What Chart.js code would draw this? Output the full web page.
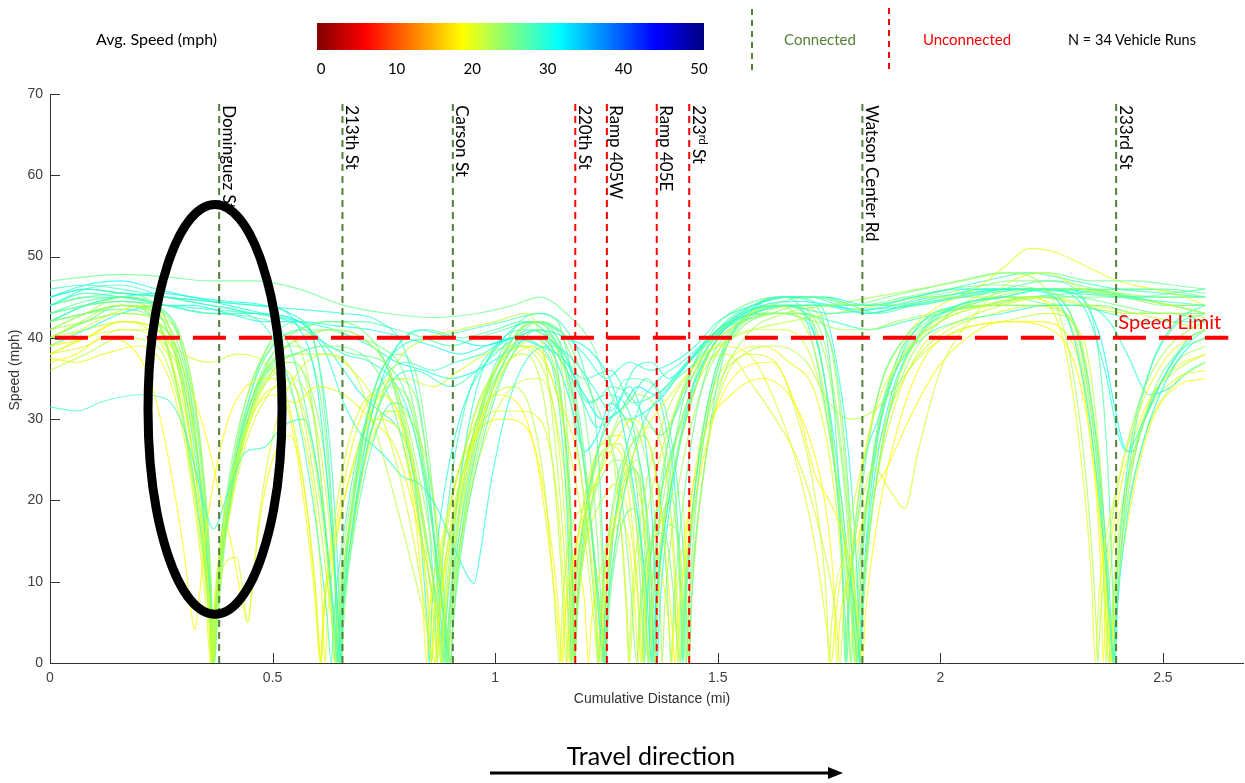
<!DOCTYPE html>
<html><head><meta charset="utf-8">
<script src="https://cdn.jsdelivr.net/npm/chart.js@4/dist/chart.umd.min.js"></script>
<style>
html,body{margin:0;padding:0;background:#fff;}
#wrap{position:relative;width:1245px;height:783px;overflow:hidden;background:#fff;}
#c{position:absolute;left:0;top:0;}
#ov{position:absolute;left:0;top:0;pointer-events:none;}
</style></head><body>
<div id="wrap"><canvas id="c" width="1245" height="783"></canvas><svg id="ov" width="1245" height="783" xmlns="http://www.w3.org/2000/svg"></svg></div>
<script>
// ---------------- DATA ----------------
const streetNames = ['Dominguez St','213th St','Carson St','220th St','Ramp 405W','Ramp 405E','223rd St','Watson Center Rd','233rd St'];
const streetDist = [0.380,0.657,0.905,1.180,1.251,1.363,1.436,1.825,2.395];
const streetConnected = [true,true,true,false,false,false,false,true,true];
const streetSuperscript = [false,false,false,false,false,false,true,false,false];
const speedLimit = 40;
const colorbarTicks = [0,10,20,30,40,50];
const vehicleRuns = 34;
// average speed (mph) of each run -> line colour
const runAvgSpeed = [28,20,22,25,27,30,19,21,23,26,29,24,27,22,26,28,20,23,29,25,21,24,30,27,22,28,19,26,29,23,30,21,25,28];
// [cumulative distance (mi), speed (mph)]
const run01=[[0,31.5],[0.06,31],[0.12,32.2],[0.2,33],[0.26,32.5],[0.3,29],[0.335,22],[0.367,16.5],[0.4,21],[0.44,26],[0.48,26.5],[0.52,29],[0.57,30],[0.6,24],[0.63,10],[0.641,3],[0.645,0],[0.65,4],[0.67,13],[0.71,26],[0.76,34],[0.82,36],[0.9,34],[0.96,36],[1.02,39],[1.08,41],[1.14,39],[1.2,35],[1.26,36],[1.31,32],[1.36,33],[1.42,36],[1.48,40],[1.55,43],[1.65,44],[1.75,43],[1.85,43.5],[1.95,44],[2.05,45],[2.2,46],[2.3,45.5],[2.4,45],[2.5,44.5],[2.595,44]];
const run02=[[0,38],[0.08,40],[0.16,42],[0.24,40],[0.29,34],[0.33,22],[0.355,9],[0.362,0],[0.37,8],[0.4,20],[0.45,30],[0.5,33],[0.55,32],[0.6,34],[0.66,33],[0.72,30],[0.78,26],[0.83,16],[0.87,5],[0.878,0],[0.886,6],[0.92,18],[0.97,30],[1.03,37],[1.09,39],[1.14,33],[1.19,24],[1.225,8],[1.236,0],[1.245,7],[1.28,20],[1.33,28],[1.38,32],[1.44,36],[1.5,39],[1.57,38],[1.63,32],[1.68,24],[1.72,14],[1.748,3],[1.755,0],[1.765,6],[1.8,18],[1.86,32],[1.92,38],[2.0,42],[2.1,44],[2.2,45],[2.27,41],[2.31,28],[2.34,10],[2.348,0],[2.356,8],[2.39,20],[2.44,30],[2.5,37],[2.56,40],[2.595,41]];
const run03=[[0,40],[0.07,42],[0.15,44],[0.22,43.5],[0.27,38],[0.31,26],[0.345,12],[0.362,3],[0.366,0],[0.371,5],[0.39,14],[0.43,26],[0.48,34],[0.53,36],[0.57,30],[0.6,20],[0.625,9],[0.64,2],[0.645,0],[0.65,4],[0.68,16],[0.72,28],[0.78,37],[0.85,40],[0.92,41],[1.0,42],[1.07,43],[1.11,38],[1.14,24],[1.162,8],[1.17,0],[1.177,7],[1.2,17],[1.24,26],[1.28,27],[1.31,20],[1.335,8],[1.345,0],[1.352,6],[1.38,18],[1.43,30],[1.48,38],[1.55,42],[1.62,44],[1.7,41],[1.75,30],[1.785,14],[1.805,3],[1.81,0],[1.817,5],[1.84,16],[1.88,30],[1.94,39],[2.02,43],[2.12,44],[2.22,45],[2.32,44],[2.42,43],[2.52,43],[2.595,42.5]];
const run04=[[0,42],[0.08,43],[0.16,44],[0.24,42],[0.29,33],[0.33,20],[0.357,7],[0.364,0],[0.371,6],[0.4,18],[0.45,31],[0.5,38],[0.56,41],[0.63,42],[0.7,41],[0.76,36],[0.81,25],[0.855,12],[0.885,3],[0.893,0],[0.9,5],[0.93,18],[0.98,31],[1.04,39],[1.1,42],[1.16,40],[1.2,35],[1.24,30],[1.28,22],[1.305,9],[1.318,0],[1.326,7],[1.35,15],[1.38,16],[1.4,9],[1.415,0],[1.423,6],[1.45,20],[1.49,34],[1.54,41],[1.62,44],[1.72,45],[1.82,44],[1.92,45],[2.02,46],[2.12,46.5],[2.22,46],[2.3,42],[2.34,30],[2.37,14],[2.383,3],[2.388,0],[2.394,6],[2.42,20],[2.47,32],[2.53,38],[2.595,40]];
const run05=[[0,43],[0.08,44.5],[0.16,45],[0.26,44],[0.36,43],[0.46,42.5],[0.53,40],[0.58,30],[0.62,16],[0.642,4],[0.65,0],[0.656,5],[0.68,15],[0.72,26],[0.77,32],[0.81,30],[0.85,20],[0.88,8],[0.895,1],[0.9,0],[0.906,5],[0.93,16],[0.98,29],[1.04,38],[1.1,41],[1.15,38],[1.19,28],[1.22,14],[1.238,3],[1.245,0],[1.252,6],[1.28,18],[1.33,29],[1.39,34],[1.45,37],[1.51,41],[1.58,44],[1.65,45],[1.7,42],[1.74,32],[1.78,17],[1.805,5],[1.815,0],[1.822,6],[1.85,20],[1.9,34],[1.96,41],[2.04,44],[2.14,45],[2.24,46],[2.34,45.5],[2.44,45],[2.52,45.5],[2.595,46]];
const run06=[[0,45],[0.08,46.5],[0.16,47],[0.24,46],[0.32,45],[0.4,44.5],[0.48,44],[0.55,42],[0.6,34],[0.63,18],[0.648,5],[0.652,0],[0.658,6],[0.68,17],[0.72,30],[0.77,38],[0.83,41],[0.9,40],[0.97,39],[1.04,40],[1.1,41],[1.16,40],[1.22,38],[1.27,33],[1.31,22],[1.34,9],[1.352,0],[1.36,7],[1.39,20],[1.44,33],[1.5,40],[1.56,43],[1.64,45],[1.74,45],[1.84,44],[1.94,45],[2.04,46],[2.14,46],[2.24,45.5],[2.3,40],[2.34,28],[2.37,13],[2.386,2],[2.39,0],[2.396,6],[2.42,18],[2.46,28],[2.51,35],[2.56,39],[2.595,40]];
const run07=[[0,37],[0.06,38],[0.12,40],[0.18,39],[0.23,34],[0.27,24],[0.3,14],[0.318,6],[0.325,4],[0.333,7],[0.35,16],[0.39,28],[0.44,34],[0.5,35],[0.54,30],[0.57,20],[0.595,8],[0.607,0],[0.615,7],[0.64,16],[0.68,27],[0.73,33],[0.78,31],[0.82,20],[0.852,7],[0.866,0],[0.874,6],[0.9,15],[0.95,27],[1.0,33],[1.05,32],[1.09,26],[1.12,15],[1.14,5],[1.148,0],[1.156,6],[1.18,14],[1.21,20],[1.26,26],[1.31,30],[1.35,26],[1.38,15],[1.398,4],[1.404,0],[1.41,5],[1.44,17],[1.49,30],[1.55,36],[1.62,37],[1.68,31],[1.72,23],[1.75,20],[1.78,16],[1.81,8],[1.825,0],[1.832,6],[1.86,18],[1.91,30],[1.97,38],[2.05,41],[2.15,42],[2.25,41],[2.32,33],[2.36,17],[2.378,4],[2.384,0],[2.39,5],[2.42,17],[2.47,29],[2.53,34],[2.595,35]];
const run08=[[0,39],[0.07,41],[0.14,43],[0.21,44],[0.27,41],[0.31,30],[0.345,15],[0.363,4],[0.368,0],[0.373,4],[0.39,12],[0.42,13],[0.435,8],[0.444,5],[0.452,8],[0.47,18],[0.51,30],[0.56,36],[0.62,38],[0.68,36],[0.74,31],[0.79,22],[0.83,11],[0.851,3],[0.857,0],[0.863,5],[0.89,16],[0.94,28],[1.0,36],[1.06,39],[1.12,36],[1.16,28],[1.2,16],[1.222,5],[1.23,0],[1.237,6],[1.26,16],[1.28,17],[1.295,8],[1.303,0],[1.31,7],[1.34,18],[1.39,29],[1.45,36],[1.52,38],[1.58,34],[1.63,30],[1.68,25],[1.73,16],[1.765,6],[1.775,0],[1.782,6],[1.81,16],[1.85,24],[1.89,21],[1.92,19],[1.95,26],[2.0,36],[2.08,43],[2.16,47],[2.24,48],[2.32,46],[2.42,45],[2.52,44],[2.595,43]];
const run09=[[0,41],[0.08,43],[0.16,45],[0.23,44],[0.28,38],[0.32,26],[0.35,12],[0.362,3],[0.365,0],[0.37,5],[0.39,16],[0.43,30],[0.48,38],[0.54,40],[0.58,35],[0.61,22],[0.63,9],[0.638,2],[0.641,0],[0.646,5],[0.67,16],[0.71,28],[0.76,35],[0.8,30],[0.84,20],[0.875,9],[0.895,2],[0.9,0],[0.905,5],[0.93,17],[0.98,30],[1.04,38],[1.1,40],[1.14,36],[1.16,24],[1.172,8],[1.176,0],[1.182,6],[1.21,18],[1.26,28],[1.32,33],[1.37,30],[1.4,20],[1.42,8],[1.428,0],[1.434,6],[1.46,20],[1.5,33],[1.56,40],[1.65,43],[1.75,44],[1.85,45],[1.95,46],[2.05,47],[2.15,48],[2.25,45],[2.3,35],[2.335,18],[2.35,5],[2.354,0],[2.36,6],[2.39,19],[2.44,31],[2.5,38],[2.56,41],[2.595,42]];
const run10=[[0,40],[0.08,42],[0.16,44],[0.24,43],[0.29,36],[0.33,22],[0.358,9],[0.367,2],[0.37,0],[0.375,4],[0.4,18],[0.44,30],[0.49,36],[0.55,38],[0.62,39],[0.7,38],[0.76,33],[0.81,23],[0.85,11],[0.88,3],[0.889,0],[0.895,5],[0.92,16],[0.97,30],[1.03,38],[1.09,41],[1.14,39],[1.18,32],[1.21,20],[1.238,5],[1.248,0],[1.255,6],[1.28,16],[1.31,19],[1.33,12],[1.336,0],[1.342,8],[1.37,20],[1.42,30],[1.47,38],[1.54,42],[1.62,44],[1.7,43],[1.74,35],[1.77,20],[1.793,6],[1.8,0],[1.806,6],[1.83,18],[1.87,31],[1.92,38],[2.0,42],[2.1,44],[2.2,45],[2.3,45],[2.4,44],[2.5,43],[2.595,43]];
const run11=[[0,44],[0.08,45.5],[0.16,45],[0.26,44],[0.36,43],[0.46,43],[0.56,42],[0.62,38],[0.66,32],[0.7,28],[0.73,26.6],[0.76,25],[0.79,23],[0.83,22],[0.87,19],[0.91,14],[0.94,10.5],[0.953,9.8],[0.965,13],[0.99,22],[1.03,32],[1.08,38],[1.13,39],[1.18,37],[1.22,34],[1.26,31],[1.3,34],[1.33,30],[1.35,20],[1.36,8],[1.364,0],[1.37,7],[1.4,22],[1.45,34],[1.5,40],[1.58,43],[1.66,44],[1.72,40],[1.76,28],[1.795,12],[1.815,3],[1.82,0],[1.826,8],[1.85,22],[1.89,33],[1.95,40],[2.04,44],[2.14,45],[2.24,46],[2.32,44],[2.37,36],[2.4,28],[2.42,26],[2.45,29],[2.5,35],[2.55,39],[2.595,41]];
const run12=[[0,41],[0.08,43],[0.16,44],[0.24,42],[0.28,35],[0.32,23],[0.35,11],[0.362,3],[0.366,0],[0.37,4],[0.39,14],[0.43,27],[0.48,35],[0.54,37],[0.59,33],[0.62,24],[0.64,11],[0.652,2],[0.655,0],[0.66,5],[0.68,16],[0.72,28],[0.77,35],[0.82,33],[0.85,24],[0.88,11],[0.896,2],[0.9,0],[0.905,5],[0.93,18],[0.98,31],[1.04,39],[1.1,41],[1.15,37],[1.19,28],[1.22,15],[1.24,4],[1.245,0],[1.25,5],[1.28,18],[1.31,24],[1.33,20],[1.345,9],[1.355,0],[1.362,7],[1.39,20],[1.44,32],[1.5,40],[1.58,43],[1.66,44],[1.73,41],[1.77,30],[1.8,14],[1.815,3],[1.82,0],[1.826,6],[1.86,24],[1.92,36],[2.0,42],[2.1,45],[2.2,46],[2.3,46],[2.4,45.5],[2.5,45],[2.595,45]];
const run13=[[0,42],[0.08,44],[0.16,45],[0.24,44],[0.29,37],[0.33,24],[0.358,10],[0.367,2],[0.369,0],[0.374,5],[0.4,19],[0.45,33],[0.5,40],[0.56,42],[0.6,38],[0.625,26],[0.642,10],[0.648,0],[0.654,7],[0.68,19],[0.72,32],[0.78,39],[0.85,41],[0.92,40],[1.0,41],[1.06,42],[1.12,40],[1.15,32],[1.17,17],[1.176,5],[1.178,0],[1.184,7],[1.21,20],[1.25,30],[1.3,35],[1.36,34],[1.4,26],[1.425,12],[1.435,0],[1.441,8],[1.47,24],[1.51,37],[1.57,43],[1.65,45],[1.72,44],[1.75,38],[1.77,24],[1.782,8],[1.786,0],[1.792,6],[1.82,20],[1.86,33],[1.92,40],[2.0,43],[2.1,44],[2.2,45],[2.3,45.5],[2.4,46],[2.5,46],[2.595,45.5]];
const run14=[[0,36],[0.08,38],[0.16,40],[0.24,39],[0.29,32],[0.33,20],[0.355,7],[0.363,0],[0.369,5],[0.39,15],[0.43,27],[0.49,35],[0.56,38],[0.63,38],[0.69,35],[0.74,27],[0.79,17],[0.84,6],[0.866,0],[0.872,6],[0.9,16],[0.95,28],[1.0,35],[1.06,38],[1.1,35],[1.13,24],[1.15,10],[1.16,0],[1.166,7],[1.19,17],[1.23,25],[1.26,26],[1.28,18],[1.295,6],[1.3,0],[1.306,7],[1.33,19],[1.38,30],[1.44,36],[1.5,39],[1.58,41],[1.66,42],[1.76,43],[1.86,44],[1.96,45],[2.06,45],[2.16,45],[2.26,44],[2.32,36],[2.355,20],[2.372,6],[2.378,0],[2.384,5],[2.41,16],[2.46,28],[2.52,34],[2.595,37]];
const run15=[[0,47],[0.08,47.5],[0.16,47.8],[0.26,47.5],[0.36,47],[0.46,47],[0.56,46],[0.66,44],[0.76,43],[0.86,42.5],[0.96,43],[1.04,44],[1.1,45],[1.16,43],[1.22,39],[1.26,33],[1.3,29],[1.33,23],[1.35,12],[1.357,0],[1.363,8],[1.39,22],[1.43,34],[1.49,41],[1.56,44],[1.64,45],[1.72,45],[1.8,44],[1.88,45],[1.96,46],[2.04,47],[2.14,48],[2.24,48],[2.34,47],[2.44,47],[2.52,46.5],[2.595,46]];
const run16=[[0,44],[0.08,46],[0.16,46.5],[0.26,45],[0.36,44],[0.44,43],[0.5,40],[0.55,32],[0.59,20],[0.622,6],[0.632,0],[0.638,6],[0.66,16],[0.7,28],[0.75,35],[0.8,37],[0.86,36],[0.91,37],[0.97,38],[1.04,40],[1.1,39],[1.14,33],[1.16,20],[1.168,7],[1.171,0],[1.177,7],[1.2,18],[1.23,26],[1.26,30],[1.3,32],[1.34,35],[1.38,30],[1.41,17],[1.42,4],[1.422,0],[1.428,7],[1.45,22],[1.49,35],[1.55,42],[1.63,44],[1.73,44],[1.83,43],[1.93,44],[2.03,45],[2.13,46],[2.23,46],[2.33,46],[2.43,45],[2.52,44],[2.595,43]];
const run17=[[0,37.5],[0.06,37],[0.12,38],[0.2,39],[0.26,36],[0.3,28],[0.33,17],[0.352,6],[0.36,0],[0.366,5],[0.39,15],[0.43,26],[0.48,33],[0.53,34],[0.57,28],[0.6,17],[0.612,7],[0.618,0],[0.624,6],[0.65,17],[0.7,28],[0.75,33],[0.8,28],[0.84,16],[0.862,5],[0.87,0],[0.876,6],[0.9,17],[0.95,27],[1.0,31],[1.05,31],[1.1,30],[1.14,20],[1.158,6],[1.163,0],[1.17,6],[1.2,18],[1.24,27],[1.28,26],[1.31,16],[1.325,5],[1.33,0],[1.336,6],[1.36,16],[1.39,18],[1.405,8],[1.41,0],[1.416,7],[1.44,20],[1.48,32],[1.54,38],[1.6,39],[1.66,37],[1.72,33],[1.76,22],[1.78,10],[1.787,0],[1.793,8],[1.82,22],[1.86,33],[1.92,40],[2.0,44],[2.08,46],[2.15,49],[2.2,51],[2.26,50.5],[2.32,49],[2.4,47],[2.48,46],[2.55,45],[2.595,44]];
const run18=[[0,40],[0.08,42],[0.16,43],[0.24,42],[0.3,36],[0.34,22],[0.36,8],[0.366,0],[0.372,7],[0.4,20],[0.45,32],[0.51,38],[0.57,40],[0.63,41],[0.7,40],[0.77,35],[0.82,24],[0.855,12],[0.878,3],[0.882,0],[0.888,5],[0.91,16],[0.96,30],[1.02,38],[1.08,42],[1.13,40],[1.16,30],[1.174,12],[1.178,0],[1.184,8],[1.21,20],[1.23,22],[1.24,12],[1.245,0],[1.25,8],[1.28,20],[1.32,25],[1.335,15],[1.345,0],[1.351,8],[1.38,21],[1.43,32],[1.49,39],[1.56,42],[1.64,43],[1.72,42],[1.78,41],[1.84,41],[1.9,42],[1.98,43],[2.08,44],[2.18,44],[2.28,43],[2.33,35],[2.36,20],[2.378,5],[2.382,0],[2.388,6],[2.41,18],[2.46,30],[2.53,37],[2.595,39]];
const run19=[[0,45],[0.08,46],[0.16,45.5],[0.26,45],[0.36,44.5],[0.46,44],[0.56,43.5],[0.66,43],[0.74,42],[0.8,38],[0.84,28],[0.865,14],[0.88,4],[0.885,0],[0.891,6],[0.92,22],[0.96,34],[1.02,40],[1.08,42],[1.14,41],[1.2,38],[1.25,35],[1.3,37],[1.35,36],[1.4,37],[1.45,39],[1.5,42],[1.58,44],[1.66,45],[1.73,44],[1.77,36],[1.8,22],[1.815,8],[1.819,0],[1.825,8],[1.85,24],[1.9,36],[1.96,42],[2.04,44],[2.14,45],[2.24,45],[2.3,42],[2.34,32],[2.37,16],[2.385,4],[2.388,0],[2.394,8],[2.42,24],[2.47,36],[2.53,42],[2.595,44]];
const run20=[[0,43],[0.08,44],[0.16,44.5],[0.24,43],[0.3,37],[0.34,24],[0.36,10],[0.367,0],[0.373,7],[0.4,20],[0.45,32],[0.5,38],[0.55,39],[0.6,35],[0.625,24],[0.64,10],[0.646,0],[0.652,7],[0.68,20],[0.72,32],[0.78,38],[0.82,36],[0.85,26],[0.875,12],[0.888,3],[0.892,0],[0.898,6],[0.92,18],[0.97,31],[1.03,39],[1.09,42],[1.14,40],[1.17,32],[1.2,20],[1.225,6],[1.232,0],[1.238,7],[1.26,18],[1.29,25],[1.31,24],[1.33,14],[1.34,4],[1.343,0],[1.349,7],[1.37,17],[1.4,20],[1.415,9],[1.42,0],[1.426,8],[1.45,22],[1.49,35],[1.55,41],[1.62,43],[1.7,44],[1.8,44],[1.9,44],[2.0,45],[2.1,46],[2.2,46],[2.3,45],[2.4,45],[2.5,44],[2.595,44]];
const run21=[[0,38],[0.08,40],[0.16,41],[0.24,41],[0.3,38],[0.36,37],[0.42,38],[0.48,37],[0.53,33],[0.57,22],[0.598,8],[0.608,0],[0.614,6],[0.64,18],[0.68,29],[0.74,34],[0.8,35],[0.86,34],[0.92,36],[0.98,38],[1.04,39],[1.1,37],[1.14,28],[1.16,14],[1.168,0],[1.174,8],[1.2,20],[1.24,27],[1.28,28],[1.32,22],[1.35,10],[1.36,0],[1.366,8],[1.39,20],[1.42,21],[1.43,10],[1.436,0],[1.442,8],[1.47,24],[1.51,34],[1.57,38],[1.63,37],[1.68,30],[1.72,20],[1.745,7],[1.75,0],[1.756,5],[1.78,12],[1.8,10],[1.815,3],[1.818,0],[1.824,7],[1.85,20],[1.9,32],[1.96,39],[2.04,42],[2.14,44],[2.24,45],[2.34,44],[2.44,43],[2.52,42],[2.595,41]];
const run22=[[0,42],[0.08,43],[0.16,44],[0.24,43.5],[0.3,38],[0.34,25],[0.36,10],[0.368,0],[0.374,7],[0.4,20],[0.45,32],[0.5,37],[0.56,40],[0.63,41],[0.7,40],[0.76,36],[0.81,26],[0.85,14],[0.875,4],[0.88,0],[0.886,6],[0.91,18],[0.96,30],[1.02,38],[1.08,40],[1.13,37],[1.16,26],[1.175,10],[1.179,0],[1.185,7],[1.21,18],[1.24,23],[1.27,25],[1.3,24],[1.32,15],[1.33,5],[1.333,0],[1.339,7],[1.36,18],[1.4,30],[1.46,38],[1.53,42],[1.6,43],[1.68,43],[1.74,38],[1.78,24],[1.8,10],[1.807,0],[1.813,7],[1.84,22],[1.88,33],[1.94,40],[2.02,43],[2.12,45],[2.22,46],[2.32,46],[2.42,45],[2.52,44],[2.595,43]];
const run23=[[0,39],[0.08,41],[0.16,43],[0.24,44],[0.32,44],[0.4,43],[0.48,42],[0.56,42],[0.64,41.5],[0.72,41],[0.8,40],[0.86,39],[0.92,38],[0.98,39],[1.04,40],[1.1,39],[1.16,37],[1.2,33],[1.24,30],[1.28,31],[1.32,34],[1.36,33],[1.4,35],[1.45,38],[1.5,41],[1.58,43],[1.66,44],[1.74,44],[1.82,43.5],[1.9,44],[1.98,45],[2.06,45.5],[2.16,46],[2.26,46],[2.36,45.5],[2.46,45],[2.55,45],[2.595,45]];
const run24=[[0,44],[0.08,45],[0.16,45],[0.24,44],[0.3,38],[0.335,24],[0.355,10],[0.364,0],[0.37,7],[0.4,21],[0.45,33],[0.5,39],[0.56,41],[0.62,42],[0.7,42],[0.78,41],[0.84,40],[0.9,39],[0.96,40],[1.02,41],[1.08,42],[1.14,40],[1.18,35],[1.22,32],[1.26,34],[1.3,33],[1.34,30],[1.37,28],[1.4,30],[1.45,36],[1.5,41],[1.58,44],[1.66,45],[1.74,45],[1.8,44],[1.86,43],[1.94,44],[2.04,45],[2.14,46],[2.24,47],[2.32,45],[2.36,36],[2.38,20],[2.39,5],[2.393,0],[2.399,8],[2.42,22],[2.46,34],[2.52,41],[2.595,43]];
const run25=[[0,40],[0.08,41],[0.16,42],[0.24,41],[0.3,35],[0.34,22],[0.362,8],[0.368,0],[0.374,7],[0.4,18],[0.44,29],[0.5,35],[0.55,34],[0.59,26],[0.62,14],[0.638,4],[0.643,0],[0.649,6],[0.67,16],[0.71,27],[0.76,31],[0.8,28],[0.83,18],[0.848,8],[0.856,0],[0.862,6],[0.89,17],[0.93,26],[0.98,32],[1.04,34],[1.08,31],[1.11,22],[1.13,10],[1.145,0],[1.151,7],[1.18,18],[1.21,19],[1.225,10],[1.233,0],[1.239,6],[1.26,17],[1.3,26],[1.34,29],[1.38,25],[1.4,15],[1.412,4],[1.415,0],[1.421,6],[1.45,22],[1.5,34],[1.56,38],[1.63,39],[1.7,37],[1.75,32],[1.8,30],[1.85,31],[1.9,34],[1.96,38],[2.04,41],[2.14,42],[2.24,43],[2.32,40],[2.35,30],[2.372,14],[2.382,0],[2.388,8],[2.42,22],[2.47,32],[2.53,36],[2.595,38]];
const run26=[[0,46],[0.08,46.5],[0.16,46],[0.26,45],[0.36,44.5],[0.46,44],[0.54,43],[0.6,38],[0.63,26],[0.648,10],[0.654,0],[0.66,8],[0.69,24],[0.73,34],[0.79,39],[0.86,40],[0.94,41],[1.02,42],[1.1,43],[1.16,41],[1.2,36],[1.23,27],[1.243,12],[1.248,0],[1.254,8],[1.28,22],[1.32,31],[1.37,35],[1.42,37],[1.48,40],[1.55,43],[1.63,45],[1.71,45],[1.78,44],[1.86,44],[1.94,45],[2.02,46],[2.1,47],[2.2,48],[2.3,47],[2.4,46],[2.5,45.5],[2.595,45]];
const run27=[[0,39],[0.08,40],[0.16,42],[0.24,41],[0.3,36],[0.35,28],[0.38,21],[0.41,14],[0.43,8],[0.445,5],[0.452,8],[0.47,17],[0.5,25],[0.54,28],[0.57,22],[0.595,10],[0.61,0],[0.616,6],[0.64,15],[0.68,24],[0.73,30],[0.78,29],[0.81,22],[0.835,10],[0.846,0],[0.852,6],[0.88,15],[0.92,24],[0.97,29],[1.02,30],[1.07,29],[1.11,21],[1.14,8],[1.152,0],[1.158,6],[1.18,12],[1.2,8],[1.21,0],[1.216,5],[1.24,12],[1.27,18],[1.3,15],[1.316,5],[1.321,0],[1.327,6],[1.35,14],[1.37,12],[1.39,5],[1.397,0],[1.403,6],[1.43,17],[1.47,28],[1.53,33],[1.6,35],[1.66,33],[1.71,27],[1.74,20],[1.76,10],[1.768,0],[1.774,5],[1.8,12],[1.84,20],[1.88,24],[1.93,30],[1.99,36],[2.06,40],[2.14,42],[2.22,42],[2.3,39],[2.34,26],[2.36,12],[2.366,0],[2.372,8],[2.4,20],[2.45,30],[2.52,36],[2.595,38]];
const run28=[[0,42],[0.08,43],[0.16,43.5],[0.24,42],[0.3,36],[0.34,21],[0.362,7],[0.367,0],[0.373,7],[0.4,20],[0.45,32],[0.5,37],[0.55,38],[0.61,39],[0.68,38],[0.75,37],[0.8,33],[0.84,24],[0.87,12],[0.886,3],[0.89,0],[0.896,6],[0.92,19],[0.97,32],[1.03,40],[1.09,43],[1.14,42],[1.17,36],[1.2,26],[1.22,14],[1.235,4],[1.24,0],[1.246,6],[1.27,18],[1.3,26],[1.33,28],[1.36,24],[1.38,15],[1.39,5],[1.395,0],[1.401,7],[1.43,23],[1.47,35],[1.53,41],[1.61,43],[1.69,43],[1.75,40],[1.78,30],[1.8,16],[1.81,5],[1.813,0],[1.819,8],[1.85,26],[1.9,37],[1.97,42],[2.06,44],[2.16,45],[2.26,44],[2.36,44],[2.44,43],[2.52,43],[2.595,42]];
const run29=[[0,43],[0.08,44],[0.16,44.5],[0.26,44],[0.36,43.5],[0.46,43],[0.56,42],[0.62,39],[0.66,36],[0.7,33],[0.74,31],[0.78,29],[0.81,25],[0.835,14],[0.848,4],[0.852,0],[0.858,7],[0.88,19],[0.92,30],[0.98,37],[1.04,40],[1.1,40],[1.15,37],[1.19,33],[1.23,29],[1.27,31],[1.31,36],[1.35,37],[1.39,35],[1.43,37],[1.48,40],[1.55,42],[1.63,43],[1.7,42],[1.74,35],[1.77,20],[1.786,6],[1.79,0],[1.796,8],[1.82,22],[1.86,30],[1.9,36],[1.96,40],[2.04,42],[2.14,43],[2.24,44],[2.32,44],[2.38,42],[2.42,38],[2.47,33],[2.52,34],[2.56,36],[2.595,37]];
const run30=[[0,41],[0.08,42],[0.16,43],[0.24,42.5],[0.3,39],[0.34,26],[0.362,10],[0.369,0],[0.375,7],[0.4,19],[0.45,31],[0.5,36],[0.55,37],[0.59,31],[0.615,19],[0.632,7],[0.638,0],[0.644,6],[0.67,18],[0.71,29],[0.76,34],[0.81,32],[0.845,22],[0.87,10],[0.878,0],[0.884,7],[0.91,19],[0.95,30],[1.0,36],[1.06,39],[1.11,38],[1.15,31],[1.17,16],[1.176,4],[1.179,0],[1.185,6],[1.21,17],[1.25,26],[1.29,30],[1.33,27],[1.36,17],[1.372,5],[1.375,0],[1.381,7],[1.41,21],[1.46,33],[1.52,40],[1.6,43],[1.68,44],[1.75,40],[1.78,28],[1.8,14],[1.808,3],[1.811,0],[1.817,7],[1.85,25],[1.9,37],[1.96,42],[2.04,44],[2.14,46],[2.24,46],[2.34,46],[2.44,45],[2.52,44],[2.595,44]];
const run31=[[0,42],[0.08,44],[0.16,45],[0.24,45.5],[0.32,45],[0.4,44],[0.48,43],[0.56,42],[0.64,41],[0.72,39],[0.78,37],[0.84,36],[0.9,35],[0.96,36],[1.02,38],[1.08,40],[1.13,38],[1.17,32],[1.2,26],[1.23,28],[1.26,32],[1.3,30],[1.34,31],[1.38,33],[1.42,36],[1.47,39],[1.53,42],[1.6,44],[1.68,44.5],[1.76,44],[1.84,43],[1.92,44],[2.0,45],[2.1,46],[2.2,46],[2.3,45.5],[2.36,40],[2.39,32],[2.41,27],[2.43,26],[2.46,30],[2.51,36],[2.56,40],[2.595,41]];
const run32=[[0,38],[0.08,39],[0.16,41],[0.24,40],[0.3,34],[0.34,21],[0.36,7],[0.365,0],[0.371,6],[0.4,17],[0.44,27],[0.49,33],[0.54,35],[0.59,31],[0.62,21],[0.64,9],[0.65,0],[0.656,7],[0.68,18],[0.72,27],[0.77,31],[0.82,29],[0.86,21],[0.885,9],[0.895,0],[0.901,6],[0.93,17],[0.98,28],[1.04,34],[1.1,35],[1.14,29],[1.165,16],[1.172,4],[1.175,0],[1.181,6],[1.21,16],[1.24,20],[1.27,22],[1.3,18],[1.32,8],[1.328,0],[1.334,7],[1.36,18],[1.4,26],[1.45,34],[1.51,39],[1.58,41],[1.65,41],[1.72,36],[1.76,25],[1.79,12],[1.797,0],[1.803,7],[1.83,19],[1.88,30],[1.94,37],[2.02,41],[2.12,43],[2.22,44],[2.3,42],[2.34,32],[2.365,16],[2.372,0],[2.378,8],[2.41,20],[2.46,30],[2.53,35],[2.595,36]];
const run33=[[0,44],[0.08,45],[0.16,45.5],[0.24,44],[0.3,39],[0.34,26],[0.36,12],[0.367,0],[0.373,8],[0.4,22],[0.45,34],[0.5,39],[0.56,41],[0.62,41],[0.68,40],[0.74,39],[0.8,35],[0.84,25],[0.87,13],[0.89,3],[0.895,0],[0.901,6],[0.93,20],[0.98,33],[1.04,40],[1.1,42],[1.15,40],[1.19,34],[1.22,22],[1.238,7],[1.243,0],[1.249,8],[1.27,18],[1.3,24],[1.33,22],[1.35,10],[1.358,0],[1.364,7],[1.39,17],[1.41,16],[1.425,6],[1.43,0],[1.436,8],[1.46,24],[1.5,36],[1.56,42],[1.63,44],[1.7,44],[1.76,44],[1.82,44],[1.88,44],[1.96,45],[2.06,46],[2.16,47],[2.26,47],[2.36,46],[2.46,46],[2.55,45.5],[2.595,45]];
const run34=[[0,45],[0.08,46],[0.16,45.5],[0.26,45],[0.36,44],[0.46,43],[0.54,42],[0.6,40],[0.66,38],[0.72,37],[0.78,34],[0.82,28],[0.85,18],[0.865,6],[0.87,0],[0.876,8],[0.9,22],[0.94,33],[1.0,39],[1.06,41],[1.12,40],[1.17,36],[1.21,32],[1.25,33],[1.29,32],[1.32,26],[1.345,12],[1.35,0],[1.356,8],[1.38,24],[1.42,33],[1.47,39],[1.53,42],[1.6,43],[1.68,43],[1.76,42],[1.84,41],[1.92,42],[2.0,43],[2.1,44],[2.2,44],[2.3,44],[2.38,43],[2.46,42],[2.54,42],[2.595,42]];
const runs=[run01,run02,run03,run04,run05,run06,run07,run08,run09,run10,run11,run12,run13,run14,run15,run16,run17,run18,run19,run20,run21,run22,run23,run24,run25,run26,run27,run28,run29,run30,run31,run32,run33,run34];
// highlighted area (data units) and speed-limit line extent
const highlight = {x:0.3707, y:31.2, rx:0.1505, ry:25.2};
const speedLimitFrom = 0.011, speedLimitTo = 2.647, streetTop = 69;

// ---------------- STYLE ----------------
const GREEN='#538135', RED='#ff0000', AXIS='#333333', TICKTXT='#404040';
const LABEL_FONT="Lato, 'Open Sans', sans-serif";
const AXIS_FONT="'Liberation Sans', Arial, sans-serif";
function jetRev(v){const t=1-v/50;const c=x=>Math.round(255*Math.max(0,Math.min(1,x)));return [c(1.5-Math.abs(4*t-3)),c(1.5-Math.abs(4*t-2)),c(1.5-Math.abs(4*t-1))];}

const datasets=[];
streetDist.forEach((d,i)=>datasets.push({data:[{x:d,y:0},{x:d,y:streetTop}],borderColor:streetConnected[i]?GREEN:RED,borderWidth:2,borderDash:[7,5],pointRadius:0,tension:0,order:1}));
datasets.push({data:[{x:speedLimitFrom,y:speedLimit},{x:speedLimitTo,y:speedLimit}],borderColor:RED,borderWidth:4,borderDash:[33,13],pointRadius:0,tension:0,order:0});
runs.forEach((r,i)=>{const [R,G,B]=jetRev(runAvgSpeed[i]);datasets.push({data:r.map(p=>({x:p[0],y:p[1]})),borderColor:`rgba(${R},${G},${B},0.75)`,borderWidth:1.2,pointRadius:0,cubicInterpolationMode:'monotone',order:2});});

const inwardTicks={id:'inwardTicks',afterDraw(chart){const {ctx,scales:{x,y},chartArea:a}=chart;ctx.save();ctx.strokeStyle=AXIS;ctx.lineWidth=1;ctx.beginPath();
 x.ticks.forEach(t=>{const px=Math.round(x.getPixelForValue(t.value))+0.5;ctx.moveTo(px,a.bottom);ctx.lineTo(px,a.bottom-10);});
 y.ticks.forEach(t=>{const py=Math.round(y.getPixelForValue(t.value))+0.5;ctx.moveTo(a.left,py);ctx.lineTo(a.left+10,py);});
 ctx.stroke();ctx.restore();}};

Chart.defaults.font.family=AXIS_FONT;
const chart=new Chart(document.getElementById('c'),{type:'line',data:{datasets},
 options:{responsive:false,animation:false,events:[],layout:{padding:{top:94,right:2,left:0,bottom:0}},
  plugins:{legend:{display:false},tooltip:{enabled:false}},
  scales:{
   x:{type:'linear',min:0,max:2.68,afterFit(s){s.height=120;},grid:{display:false,drawTicks:false},border:{display:true,color:AXIS,width:1},
      ticks:{stepSize:0.5,includeBounds:false,padding:7,color:TICKTXT,font:{size:14},maxRotation:0,autoSkip:false,callback:v=>String(Math.round(v*10)/10)}},
   y:{min:0,max:70,afterFit(s){s.width=50;},grid:{display:false,drawTicks:false},border:{display:true,color:AXIS,width:1},
      ticks:{stepSize:10,padding:7,color:TICKTXT,font:{size:14}}}
  }},plugins:[inwardTicks]});

// ---------------- OVERLAY (text, legend, highlight) ----------------
const svg=document.getElementById('ov');const NS='http://www.w3.org/2000/svg';
function el(tag,attrs,text,parent){const e=document.createElementNS(NS,tag);for(const k in attrs)e.setAttribute(k,attrs[k]);if(text!=null)e.textContent=text;(parent||svg).appendChild(e);return e;}
const xs=chart.scales.x, ys=chart.scales.y;

// legend
el('text',{x:96,y:45,'font-family':LABEL_FONT,'font-size':16,fill:'#000'},'Avg. Speed (mph)');
const defs=el('defs',{});const lg=el('linearGradient',{id:'jet',x1:0,y1:0,x2:1,y2:0},null,defs);
[[0,'#800000'],[0.125,'#ff0000'],[0.375,'#ffff00'],[0.625,'#00ffff'],[0.875,'#0000ff'],[1,'#000080']].forEach(s=>el('stop',{offset:s[0],'stop-color':s[1]},null,lg));
el('rect',{x:317,y:23,width:387,height:27,fill:'url(#jet)'});
colorbarTicks.forEach(v=>el('text',{x:321+v*7.56,y:74,'text-anchor':'middle','font-family':LABEL_FONT,'font-size':15,fill:'#000'},String(v)));
el('line',{x1:752,y1:9,x2:752,y2:70,stroke:GREEN,'stroke-width':2,'stroke-dasharray':'6 5'});
el('text',{x:820,y:45,'text-anchor':'middle','font-family':LABEL_FONT,'font-size':15,fill:GREEN},'Connected');
el('line',{x1:889,y1:8,x2:889,y2:70,stroke:RED,'stroke-width':2,'stroke-dasharray':'6 5'});
el('text',{x:967,y:45,'text-anchor':'middle','font-family':LABEL_FONT,'font-size':15,fill:RED},'Unconnected');
el('text',{x:1132,y:45,'text-anchor':'middle','font-family':LABEL_FONT,'font-size':14.5,fill:'#000'},`N = ${vehicleRuns} Vehicle Runs`);

// axis titles
el('text',{x:652,y:703,'text-anchor':'middle','font-family':AXIS_FONT,'font-size':14,fill:AXIS},'Cumulative Distance (mi)');
el('text',{transform:'translate(19,370) rotate(-90)','text-anchor':'middle','font-family':AXIS_FONT,'font-size':14,fill:AXIS},'Speed (mph)');

// street labels
streetNames.forEach((n,i)=>{const px=xs.getPixelForValue(streetDist[i])+3.5, py=ys.getPixelForValue(streetTop)+3;
 const t=el('text',{transform:`translate(${px},${py}) rotate(90)`,'font-family':LABEL_FONT,'font-size':17,fill:'#000'});
 const m=streetSuperscript[i]?n.match(/^(\d+)(st|nd|rd|th)(.*)$/):null;
 if(m){el('tspan',{},m[1],t);el('tspan',{dy:-6,'font-size':11},m[2],t);el('tspan',{dy:6},m[3],t);} else t.textContent=n;});

// speed limit label
el('text',{x:xs.getPixelForValue(2.4),y:ys.getPixelForValue(speedLimit)-9,'font-family':LABEL_FONT,'font-size':20,fill:RED},'Speed Limit');

// highlight ellipse
const cx=xs.getPixelForValue(highlight.x), cy=ys.getPixelForValue(highlight.y);
el('ellipse',{cx,cy,rx:xs.getPixelForValue(highlight.x+highlight.rx)-cx,ry:cy-ys.getPixelForValue(highlight.y+highlight.ry),fill:'none',stroke:'#000','stroke-width':9});

// travel direction
el('text',{x:651,y:765,'text-anchor':'middle','font-family':LABEL_FONT,'font-size':25,fill:'#000'},'Travel direction');
el('line',{x1:490,y1:773,x2:830,y2:773,stroke:'#000','stroke-width':3});
el('polygon',{points:'828,767 843,773 828,779',fill:'#000'});
</script>
</body></html>
